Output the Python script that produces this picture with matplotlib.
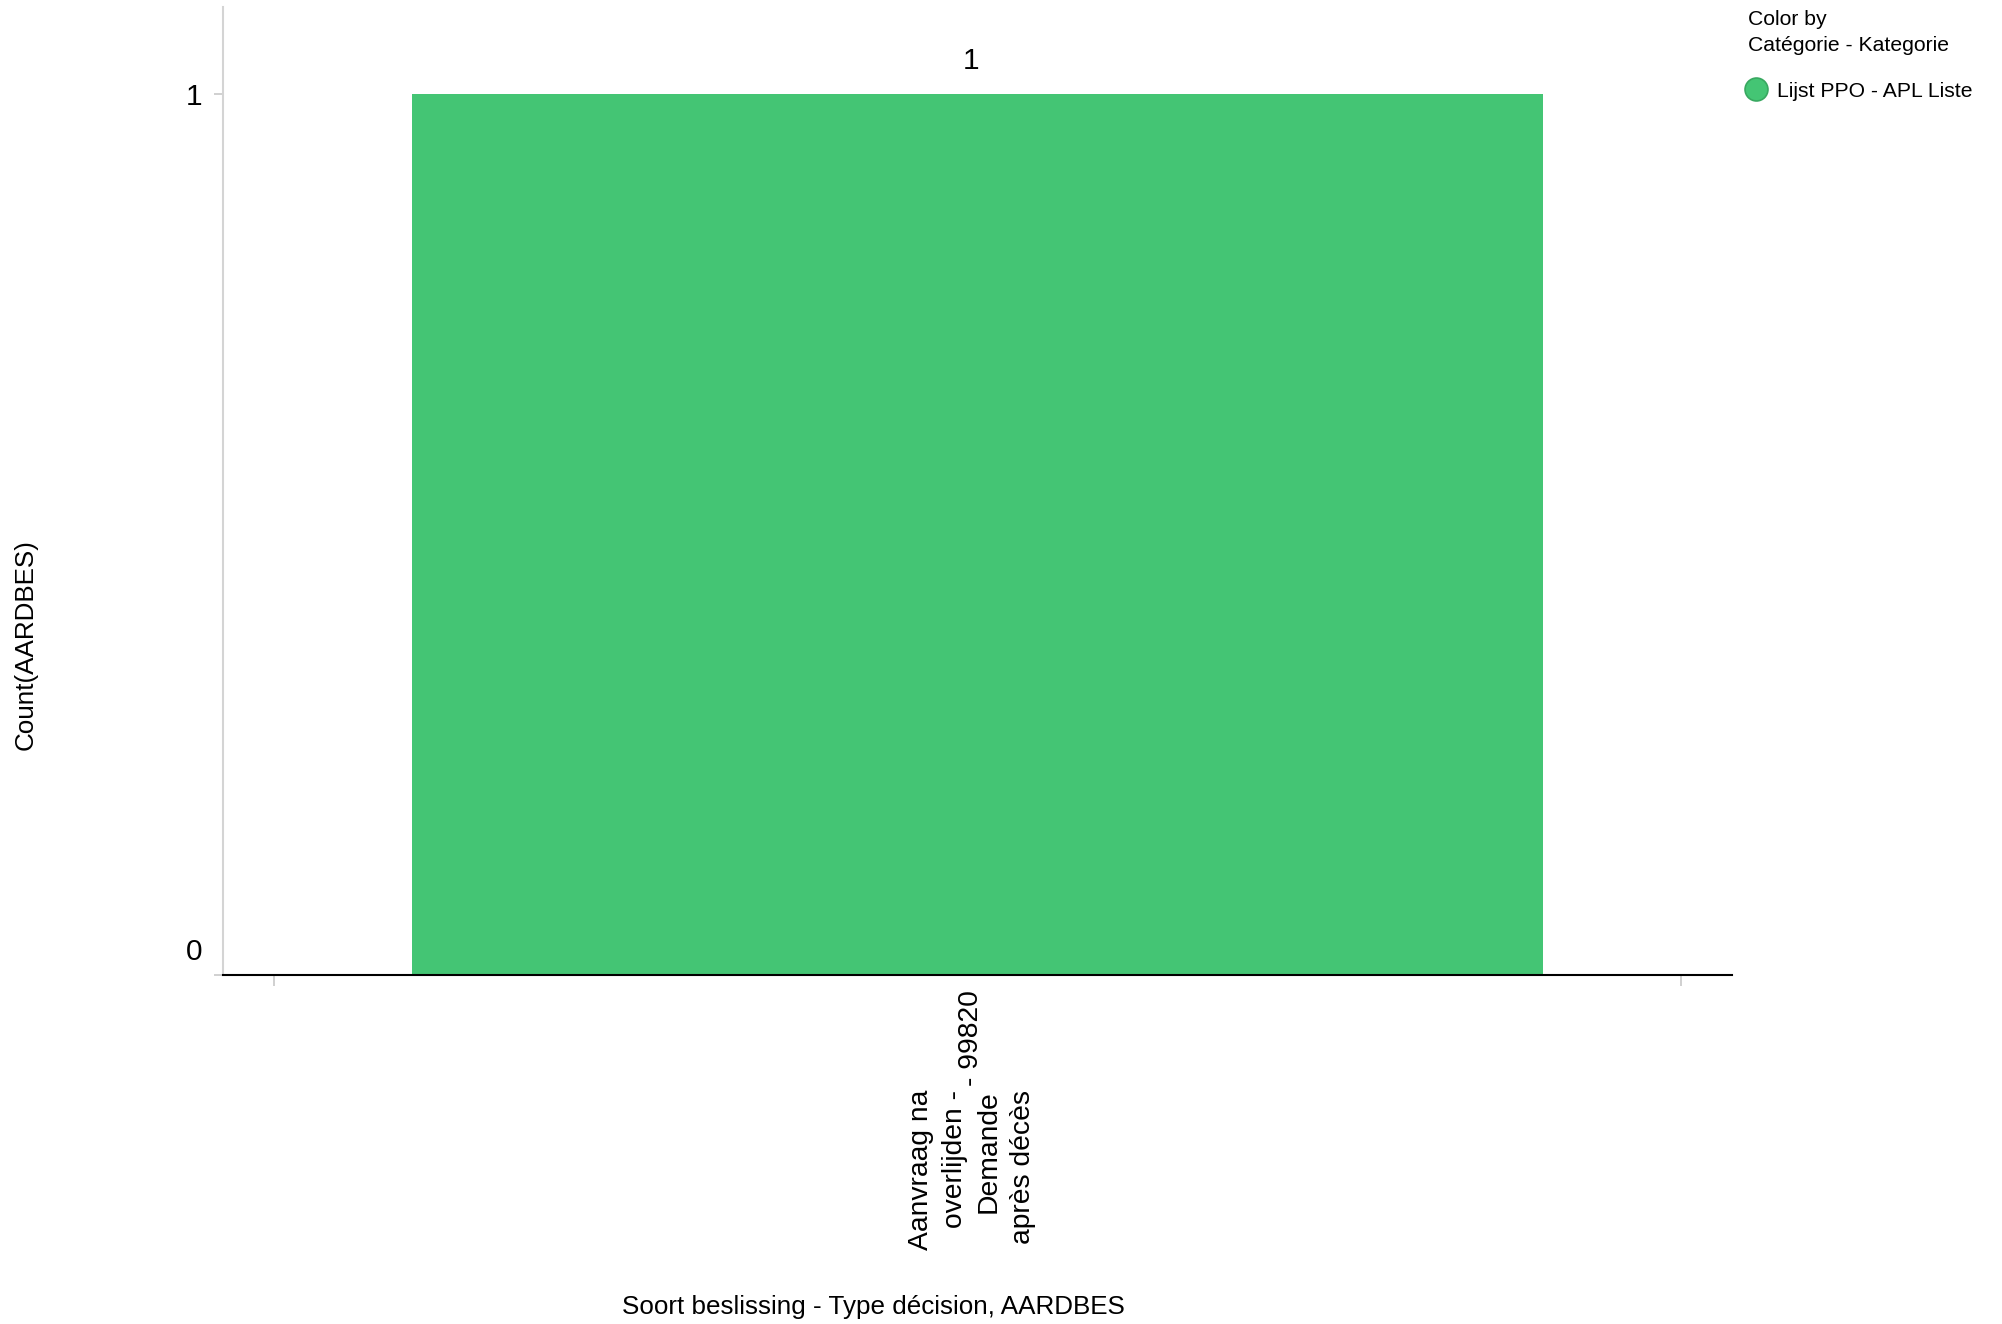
import matplotlib
matplotlib.use("Agg")
import matplotlib.pyplot as plt
import matplotlib.transforms as mtrans
from matplotlib.lines import Line2D

# ---- data ----
categories = ["Aanvraag na\noverlijden -\nDemande\naprès décès"]
category_codes = ["99820"]
counts = [1]
series_name = "Lijst PPO - APL Liste"
y_ticks = [0, 1]
x_title = "Soort beslissing - Type décision, AARDBES"
y_title = "Count(AARDBES)"
legend_title = ["Color by", "Catégorie - Kategorie"]

GREEN = "#44c574"
W, H = 2002, 1324

plt.rcParams['font.family'] = ['Liberation Sans', 'DejaVu Sans']
fig = plt.figure(figsize=(W / 100, H / 100), dpi=100)
ax = fig.add_axes([223 / W, 1 - 975 / H, (1732 - 223) / W, (975 - 7) / H])

xs = list(range(len(categories)))
ax.bar(xs, counts, width=0.804, color=GREEN, zorder=2)
ax.set_xlim(-0.536, 0.536)
ax.set_ylim(0, 1.099)

shift = mtrans.ScaledTranslation(-6 / 100, 0, fig.dpi_scale_trans)

# data labels
for xi, c in zip(xs, counts):
    ax.annotate(str(c), (xi, c), xytext=(-4.3, 18), textcoords='offset points',
                ha='center', va='baseline', fontsize=21.5, color='black')

# spines
for s in ['top', 'right']:
    ax.spines[s].set_visible(False)
ax.spines['left'].set_color('#d4d4d4')
ax.spines['left'].set_linewidth(1.5)
ax.spines['bottom'].set_color('black')
ax.spines['bottom'].set_linewidth(1.5)

# y ticks
ax.set_yticks(y_ticks)
ax.set_yticklabels([str(t) for t in y_ticks])
ax.tick_params(axis='y', length=6.5, width=1.4, color='#d0d0d0', pad=8.5,
               labelsize=21.5, labelcolor='black')
# the zero label sits just above the baseline
up = mtrans.ScaledTranslation(0, 26 / 100, fig.dpi_scale_trans)
zero_lab = ax.get_yticklabels()[0]
zero_lab.set_transform(zero_lab.get_transform() + up)

# x ticks at category boundaries
bounds = [i - 0.5 for i in xs] + [xs[-1] + 0.5]
ax.set_xticks(bounds)
ax.set_xticklabels([''] * len(bounds))
ax.tick_params(axis='x', length=8, width=1.4, color='#d0d0d0')

# category labels
blend = mtrans.blended_transform_factory(ax.transData, fig.transFigure)
for xi, lab, code in zip(xs, categories, category_codes):
    ax.text(xi, 1 - 1090 / H, lab, transform=blend + shift, rotation=90,
            ha='center', va='top', multialignment='right', fontsize=20.3,
            linespacing=1.4)
    ax.text(xi, 1 - 990 / H, "- " + code, transform=blend + shift, rotation=90,
            ha='center', va='top', fontsize=20.3)

# axis titles
ax.set_xlabel(x_title, fontsize=18.7, va='center')
ax.xaxis.set_label_coords((873 - 223) / 1509, (975 - 1307) / 968)
ax.set_ylabel(y_title, fontsize=18.7, va='center')
ax.yaxis.set_label_coords((26 - 223) / 1509, (975 - 645) / 968)

# legend (manual)
fig.text(1748 / W, 1 - 25 / H, legend_title[0], fontsize=15.2, va='baseline', ha='left')
fig.text(1748 / W, 1 - 51 / H, legend_title[1], fontsize=15.2, va='baseline', ha='left')
fig.add_artist(Line2D([1756 / W], [1 - 89 / H], transform=fig.transFigure,
                      marker='o', markersize=16.5, markerfacecolor=GREEN,
                      markeredgecolor='#38a860', markeredgewidth=1.2, linestyle=''))
fig.text(1777 / W, 1 - 97 / H, series_name, fontsize=15.2, va='baseline', ha='left')

fig.savefig("out.png", dpi=100)
